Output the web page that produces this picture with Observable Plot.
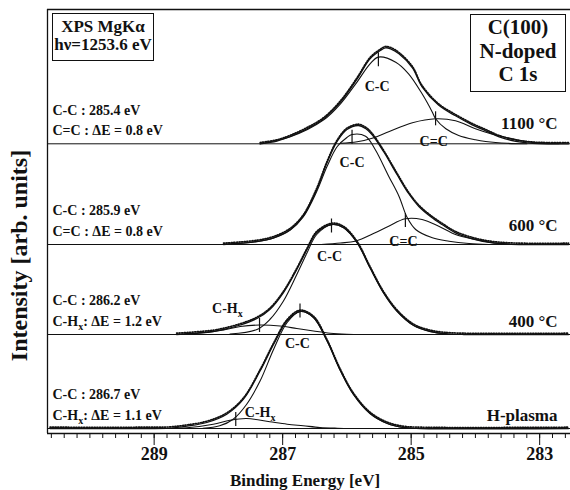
<!DOCTYPE html>
<html><head><meta charset="utf-8">
<script src="https://cdn.jsdelivr.net/npm/d3@7"></script>
<script src="https://cdn.jsdelivr.net/npm/@observablehq/plot@0.6"></script>
<style>
body{margin:0;background:#fff;}
#chart{position:relative;width:570px;height:490px;font-family:"Liberation Serif","Times New Roman",serif;}
#chart svg text{white-space:pre;}
.box{position:absolute;box-sizing:border-box;border:1.5px solid #111;background:#fff;text-align:center;font-weight:bold;color:#111;}
</style></head><body><div id="chart"></div>
<script>
// ---- data (binding energy in eV, intensity above each spectrum's baseline, arb. units) ----
const spectra = ["H-plasma", "400 °C", "600 °C", "1100 °C"];
const offsets = [5, 99, 189, 289.7];

// 1100 °C
const env1100 = [[287.35,0],[287.09,2.7],[286.88,7.3],[286.62,15],[286.36,25],[286.10,41.7],[285.84,65],[285.64,85],[285.48,93.3],[285.40,96],[285.32,95],[285.19,90],[284.98,76],[284.83,57],[284.57,38.5],[284.31,28],[284.05,19],[283.84,13],[283.63,7],[283.37,2.5],[283.11,0.5],[282.90,0],[282.55,0]];
const cc1100 = [[287.35,0],[286.88,7],[286.36,24],[286.10,40],[285.84,62],[285.64,80],[285.51,86.7],[285.24,81.6],[285.04,70],[284.83,50],[284.67,31.6],[284.62,25],[284.46,15],[284.26,8.3],[284.00,4],[283.84,2.3],[283.50,0.5],[283.20,0]];
const c2_1100 = [[286.10,0.5],[285.84,2],[285.58,6],[285.35,12],[284.98,21],[284.62,25],[284.31,23],[284.00,15],[283.76,10],[283.50,6],[283.24,2.7],[282.98,0.7],[282.70,0]];

// 600 °C
const env600 = [[287.92,0],[287.40,3],[287.14,6.7],[286.88,15],[286.68,28.3],[286.47,55],[286.31,81.7],[286.15,103.3],[286.00,115],[285.82,119],[285.71,116],[285.61,110],[285.43,93],[285.22,70],[285.04,51],[284.88,38],[284.70,28],[284.52,20],[284.31,11.7],[284.00,5],[283.76,2],[283.50,0.5],[283.24,0],[282.55,0]];
const cc600 = [[287.92,0],[287.40,3],[287.14,6.5],[286.88,14.5],[286.68,27.5],[286.47,53],[286.31,78],[286.15,98],[286.00,107],[285.92,110],[285.71,108.3],[285.56,95],[285.35,68.3],[285.19,48.3],[285.06,26.7],[284.93,15],[284.67,6.7],[284.41,3.3],[284.10,1],[283.80,0]];
const c2_600 = [[286.40,0],[286.10,1.5],[285.87,3.3],[285.56,11.7],[285.35,18.3],[285.09,25.7],[284.83,25],[284.57,18.3],[284.31,10],[284.00,5],[283.76,2],[283.50,0.5],[283.20,0]];

// 400 °C
const env400 = [[288.65,0],[288.08,3],[287.92,5],[287.66,9.5],[287.40,16],[287.20,25],[286.99,41.7],[286.78,65],[286.62,85],[286.47,101.7],[286.23,110],[286.05,106.7],[285.84,91.7],[285.64,66.7],[285.43,41.7],[285.22,23.3],[284.96,9],[284.70,3],[284.44,0.7],[284.18,0],[282.55,0]];
const cc400 = [[287.82,0.5],[287.40,5],[287.20,15],[286.99,33.3],[286.78,60],[286.62,81.7],[286.47,100],[286.23,110],[286.05,106.7],[285.84,91.7],[285.64,66.7],[285.43,41.7],[285.22,23.3],[284.96,9],[284.70,3],[284.44,0.5],[284.18,0]];
const c2_400 = [[288.60,0],[288.34,1],[287.92,4.5],[287.66,8],[287.36,9.5],[287.04,8.5],[286.78,6],[286.52,3.5],[286.26,1.3],[286.00,0.3],[285.75,0]];

// H-plasma
const envH = [[290.62,0],[289.20,0],[288.76,0.3],[288.49,2.3],[288.18,6],[287.87,14.3],[287.61,29.3],[287.35,57.7],[287.14,84.3],[286.93,107.7],[286.73,117],[286.52,111],[286.31,87.7],[286.10,57.7],[285.90,34.3],[285.64,15],[285.37,5],[285.12,1],[284.85,0],[282.55,0]];
const ccH = [[288.24,0.3],[287.98,2.7],[287.77,9.3],[287.56,24.3],[287.35,47.7],[287.14,79.3],[286.93,106],[286.73,117],[286.52,111],[286.31,87.7],[286.10,57.7],[285.90,34.3],[285.64,15],[285.37,5],[285.12,1],[284.85,0]];
const c2_H = [[288.76,0],[288.49,0.7],[288.08,4.3],[287.82,8.3],[287.56,10],[287.20,6.7],[286.93,4.3],[286.68,2.7],[286.42,1],[286.15,0.3],[285.90,0]];

// component peak markers [spectrum index, energy, height]
const markers = [[3,285.51,84],[3,284.62,25],[2,285.92,107.3],[2,285.09,24],[1,286.24,108.5],[1,287.36,9],[0,286.73,117.5],[0,287.73,9]];

// annotation texts
const ccLine = ["C-C : 286.7 eV", "C-C : 286.2 eV", "C-C : 285.9 eV", "C-C : 285.4 eV"];
const c2Line = ["C-H_x: ΔE = 1.1 eV", "C-H_x: ΔE = 1.2 eV", "C=C : ΔE = 0.8 eV", "C=C : ΔE = 0.8 eV"];
const compNames = ["C-C", "C-H_x", "C-C", "C-H_x", "C-C", "C=C", "C-C", "C=C"];
const majorTicks = [289, 287, 285, 283];
const minorTicks = d3.range(2826, 2907, 2).map(d => d / 10);

// ---- build tables ----
const curveSets = [
  [0, "env", envH], [0, "cc", ccH], [0, "c2", c2_H],
  [1, "env", env400], [1, "cc", cc400], [1, "c2", c2_400],
  [2, "env", env600], [2, "cc", cc600], [2, "c2", c2_600],
  [3, "env", env1100], [3, "cc", cc1100], [3, "c2", c2_1100]
];
const rows = curveSets.flatMap(([s, kind, pts]) =>
  pts.map(([E, h]) => ({key: s + kind, s, kind, E, v: offsets[s] + h})));
const envRows = rows.filter(r => r.kind === "env");
const compRows = rows.filter(r => r.kind !== "env");
const markRows = markers.map(([s, E, h]) => ({E, y1: offsets[s] + h - 7, y2: offsets[s] + h + 7}));

const annRows = spectra.flatMap((name, i) => [
  {t: ccLine[i], y: offsets[i] + 33.5},
  {t: c2Line[i], y: offsets[i] + 13}
]);
const rightLift = [13, 12.5, 19, 20];
const rightRows = spectra.map((name, i) => ({name, y: offsets[i] + rightLift[i]}));
// component label placement (energy, intensity)
const compPos = [[286.77, 89.7], [287.35, 21.3], [286.27, 177], [287.86, 125], [285.92, 271.3], [285.12, 192], [285.53, 347], [284.65, 292]];
const compRowsText = compNames.map((t, i) => ({t, E: compPos[i][0], y: compPos[i][1]}));

const font = "'Liberation Serif','Times New Roman',serif";
const plot = Plot.plot({
  width: 570, height: 490,
  marginLeft: 47, marginRight: 0, marginTop: 9, marginBottom: 57,
  x: {domain: [290.66, 282.52], axis: null},
  y: {domain: [0, 424], axis: null},
  style: {fontFamily: font, fontWeight: "bold", color: "#111", background: "#fff"},
  marks: [
    Plot.ruleY(offsets, {stroke: "#111", strokeWidth: 1}),
    Plot.line(envRows, {x: "E", y: "v", z: "key", curve: "catmull-rom", stroke: "#111", strokeWidth: 1.7, strokeDasharray: "1 1.6", dy: -1.3}),
    Plot.line(envRows, {x: "E", y: "v", z: "key", curve: "catmull-rom", stroke: "#111", strokeWidth: 1.3}),
    Plot.line(compRows, {x: "E", y: "v", z: "key", curve: "catmull-rom", stroke: "#111", strokeWidth: 1.1}),
    Plot.ruleX(markRows, {x: "E", y1: "y1", y2: "y2", stroke: "#111", strokeWidth: 1.2}),
    Plot.ruleY([0], {stroke: "#111", strokeWidth: 1.3}),
    Plot.ruleY([424], {stroke: "#111", strokeWidth: 1.3}),
    Plot.ruleX([290.66], {stroke: "#111", strokeWidth: 1.3}),
    Plot.axisX({ticks: minorTicks, tickSize: 5, tickFormat: null, text: null, label: null, stroke: "#111"}),
    Plot.axisX({ticks: majorTicks, tickSize: 12, tickPadding: 2, tickFormat: d => String(d), fontSize: 18, fontWeight: "bold", label: null, stroke: "#111"}),
    Plot.text(["Binding Energy [eV]"], {frameAnchor: "bottom", lineAnchor: "middle", dy: 47, dx: -4, fontSize: 17, fontWeight: "bold"}),
    Plot.text(["Intensity [arb. units]"], {frameAnchor: "left", textAnchor: "middle", lineAnchor: "middle", y: [178], dx: -28, rotate: -90, fontSize: 24, fontWeight: "bold"}),
    Plot.text(annRows, {frameAnchor: "left", y: "y", text: "t", textAnchor: "start", dx: 5, fontSize: 14, fontWeight: "bold"}),
    Plot.text(rightRows, {frameAnchor: "right", y: "y", text: "name", textAnchor: "end", dx: -13, fontSize: 17, fontWeight: "bold"}),
    Plot.text(compRowsText, {x: "E", y: "y", text: "t", fontSize: 14, fontWeight: "bold"})
  ]
});

// subscripts for C-Hx
const ns = "http://www.w3.org/2000/svg";
plot.querySelectorAll("text").forEach(t => {
  if (t.children.length === 0 && t.textContent.includes("_x")) {
    const [a, b] = t.textContent.split("_x");
    t.textContent = "";
    const s1 = document.createElementNS(ns, "tspan"); s1.textContent = a;
    const s2 = document.createElementNS(ns, "tspan"); s2.textContent = "x";
    s2.setAttribute("dy", "4"); s2.setAttribute("font-size", "10");
    t.append(s1, s2);
    if (b) { const s3 = document.createElementNS(ns, "tspan"); s3.textContent = b; s3.setAttribute("dy", "-4"); t.append(s3); }
  }
});

const chart = document.getElementById("chart");
chart.appendChild(plot);
const box1 = document.createElement("div");
box1.className = "box";
box1.style.cssText = "left:52px;top:13px;width:102px;height:48px;font-size:17px;line-height:18px;padding-top:4px;";
box1.innerHTML = "XPS MgKα<br>hν=1253.6 eV";
const box2 = document.createElement("div");
box2.className = "box";
box2.style.cssText = "left:470px;top:14px;width:96px;height:78px;font-size:21px;line-height:23.5px;padding-top:1px;";
box2.innerHTML = "C(100)<br>N-doped<br>C 1s";
chart.append(box1, box2);
</script></body></html>
